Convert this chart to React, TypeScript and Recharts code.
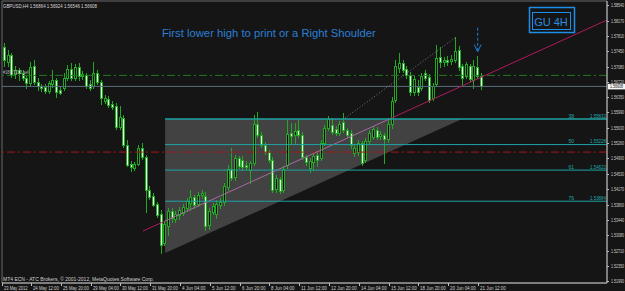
import React from 'react';
import { ComposedChart, Bar, XAxis, YAxis, ReferenceLine, ReferenceArea, Customized } from 'recharts';

// ---- data (GBPUSD H4, 23 May - 21 Jun 2012) ----
const opens = [
  1.5754, 1.5719, 1.5735, 1.5690, 1.5700, 1.5693, 1.5681, 1.5669, 1.5709, 1.5671,
  1.5662, 1.5659, 1.5650, 1.5667, 1.5676, 1.5652, 1.5657, 1.5681, 1.5702, 1.5681,
  1.5707, 1.5686, 1.5688, 1.5667, 1.5662, 1.5693, 1.5671, 1.5626, 1.5631, 1.5619,
  1.5614, 1.5565, 1.5586, 1.5522, 1.5477, 1.5467, 1.5477, 1.5515, 1.5493, 1.5415,
  1.5401, 1.5382, 1.5358, 1.5289, 1.5330, 1.5365, 1.5346, 1.5356, 1.5360, 1.5372,
  1.5384, 1.5398, 1.5382, 1.5403, 1.5401, 1.5332, 1.5363, 1.5358, 1.5379, 1.5387,
  1.5422, 1.5465, 1.5446, 1.5491, 1.5486, 1.5474, 1.5462, 1.5479, 1.5572, 1.5546,
  1.5522, 1.5505, 1.5486, 1.5417, 1.5441, 1.5415, 1.5474, 1.5550, 1.5546, 1.5557,
  1.5546, 1.5493, 1.5467, 1.5481, 1.5498, 1.5491, 1.5527, 1.5562, 1.5569, 1.5560,
  1.5550, 1.5576, 1.5557, 1.5550, 1.5503, 1.5505, 1.5527, 1.5486, 1.5531, 1.5541,
  1.5557, 1.5543, 1.5546, 1.5536, 1.5572, 1.5629, 1.5705, 1.5716, 1.5702, 1.5688,
  1.5648, 1.5659, 1.5657, 1.5693, 1.5683, 1.5633, 1.5667, 1.5731, 1.5719, 1.5724,
  1.5721, 1.5724, 1.5747, 1.5709, 1.5686, 1.5709, 1.5676, 1.5707, 1.56864,
];
const highs = [
  1.5764, 1.5747, 1.5740, 1.5709, 1.5705, 1.5700, 1.5686, 1.5719, 1.5724, 1.5681,
  1.5667, 1.5667, 1.5674, 1.5700, 1.5681, 1.5662, 1.5693, 1.5712, 1.5716, 1.5714,
  1.5716, 1.5697, 1.5693, 1.5676, 1.5719, 1.5700, 1.5676, 1.5640, 1.5638, 1.5626,
  1.5621, 1.5614, 1.5593, 1.5534, 1.5484, 1.5481, 1.5522, 1.5527, 1.5498, 1.5425,
  1.5408, 1.5387, 1.5368, 1.5342, 1.5372, 1.5372, 1.5365, 1.5375, 1.5382, 1.5396,
  1.5415, 1.5403, 1.5410, 1.5415, 1.5410, 1.5372, 1.5384, 1.5391, 1.5396, 1.5432,
  1.5474, 1.5515, 1.5498, 1.5496, 1.5496, 1.5484, 1.5484, 1.5593, 1.5600, 1.5553,
  1.5529, 1.5510, 1.5493, 1.5451, 1.5446, 1.5472, 1.5581, 1.5574, 1.5574, 1.5581,
  1.5553, 1.5498, 1.5491, 1.5503, 1.5505, 1.5534, 1.5569, 1.5591, 1.5586, 1.5567,
  1.5579, 1.5598, 1.5562, 1.5557, 1.5522, 1.5534, 1.5531, 1.5538, 1.5557, 1.5567,
  1.5565, 1.5555, 1.5550, 1.5586, 1.5636, 1.5724, 1.5740, 1.5724, 1.5709, 1.5695,
  1.5686, 1.5676, 1.5693, 1.5700, 1.5690, 1.5669, 1.5759, 1.5754, 1.5731, 1.5733,
  1.5735, 1.5778, 1.5757, 1.5714, 1.5719, 1.5714, 1.5724, 1.5733, 1.56924,
];
const lows = [
  1.5709, 1.5709, 1.5683, 1.5681, 1.5676, 1.5676, 1.5657, 1.5664, 1.5667, 1.5652,
  1.5650, 1.5645, 1.5645, 1.5659, 1.5636, 1.5643, 1.5652, 1.5676, 1.5676, 1.5676,
  1.5676, 1.5678, 1.5657, 1.5652, 1.5657, 1.5667, 1.5619, 1.5621, 1.5612, 1.5607,
  1.5560, 1.5560, 1.5517, 1.5472, 1.5460, 1.5462, 1.5474, 1.5489, 1.5363, 1.5394,
  1.5377, 1.5351, 1.5266, 1.5285, 1.5308, 1.5339, 1.5339, 1.5346, 1.5356, 1.5365,
  1.5368, 1.5372, 1.5377, 1.5396, 1.5320, 1.5323, 1.5358, 1.5349, 1.5372, 1.5379,
  1.5415, 1.5439, 1.5439, 1.5467, 1.5462, 1.5465, 1.5432, 1.5474, 1.5541, 1.5517,
  1.5500, 1.5481, 1.5410, 1.5410, 1.5408, 1.5410, 1.5467, 1.5527, 1.5527, 1.5541,
  1.5489, 1.5474, 1.5458, 1.5462, 1.5472, 1.5486, 1.5522, 1.5557, 1.5548, 1.5546,
  1.5546, 1.5553, 1.5541, 1.5515, 1.5496, 1.5498, 1.5474, 1.5481, 1.5524, 1.5536,
  1.5536, 1.5536, 1.5479, 1.5529, 1.5562, 1.5624, 1.5695, 1.5695, 1.5681, 1.5640,
  1.5640, 1.5640, 1.5652, 1.5676, 1.5624, 1.5629, 1.5662, 1.5707, 1.5709, 1.5712,
  1.5714, 1.5719, 1.5700, 1.5664, 1.5681, 1.5674, 1.5657, 1.5681, 1.56546,
];
const closes = [
  1.5724, 1.5735, 1.5688, 1.5700, 1.5693, 1.5681, 1.5669, 1.5707, 1.5671, 1.5662,
  1.5657, 1.5650, 1.5669, 1.5676, 1.5648, 1.5645, 1.5681, 1.5702, 1.5681, 1.5707,
  1.5686, 1.5690, 1.5662, 1.5657, 1.5693, 1.5671, 1.5633, 1.5633, 1.5617, 1.5612,
  1.5565, 1.5588, 1.5522, 1.5474, 1.5470, 1.5477, 1.5515, 1.5493, 1.5415, 1.5398,
  1.5379, 1.5356, 1.5285, 1.5334, 1.5365, 1.5349, 1.5358, 1.5368, 1.5375, 1.5389,
  1.5398, 1.5379, 1.5403, 1.5408, 1.5330, 1.5365, 1.5377, 1.5382, 1.5387, 1.5425,
  1.5465, 1.5444, 1.5491, 1.5472, 1.5470, 1.5470, 1.5479, 1.5572, 1.5546, 1.5522,
  1.5505, 1.5486, 1.5415, 1.5444, 1.5413, 1.5465, 1.5548, 1.5543, 1.5555, 1.5546,
  1.5493, 1.5481, 1.5484, 1.5496, 1.5486, 1.5527, 1.5562, 1.5584, 1.5553, 1.5550,
  1.5572, 1.5557, 1.5546, 1.5522, 1.5515, 1.5527, 1.5479, 1.5531, 1.5550, 1.5560,
  1.5541, 1.5548, 1.5536, 1.5572, 1.5626, 1.5709, 1.5716, 1.5700, 1.5688, 1.5648,
  1.5678, 1.5648, 1.5686, 1.5681, 1.5629, 1.5662, 1.5728, 1.5719, 1.5724, 1.5719,
  1.5726, 1.5745, 1.5707, 1.5681, 1.5714, 1.5678, 1.5709, 1.5686, 1.56608,
];

const timeTicks = [-0.7, 7, 15, 23, 31, 39, 47, 55, 63, 71, 79, 87, 95, 103, 111, 119, 127];
const timeLabels = [
  '23 May 2012', '24 May 12:00', '25 May 20:00', '29 May 04:00', '30 May 12:00', '31 May 20:00',
  '4 Jun 04:00', '5 Jun 12:00', '6 Jun 20:00', '8 Jun 04:00', '11 Jun 12:00', '12 Jun 20:00',
  '14 Jun 04:00', '15 Jun 12:00', '18 Jun 20:00', '20 Jun 04:00', '21 Jun 12:00',
];
const priceTicks = [
  1.5854, 1.5817, 1.5781, 1.5745, 1.5708, 1.5672, 1.5635, 1.5599, 1.5563, 1.5526,
  1.549, 1.5453, 1.5417, 1.538, 1.5344, 1.5308, 1.5271, 1.5235, 1.5199,
];

const fibStart = 43.0;
const fibLevels = [
  { pct: '38', value: 1.55832 },
  { pct: '50', value: 1.55228 },
  { pct: '61', value: 1.54622 },
  { pct: '76', value: 1.53884 },
];
const orderLevel = 1.5687;
const stopLevel = 1.5505;
const triangle = { x1: 43.0, x2: 122.7, y1: 1.52655, y2: 1.55832 };
const trendPink = [
  { x: 37.07, y: 1.53177 },
  { x: 43.0, y: 1.53415 },
  { x: 103.1, y: 1.55831 },
  { x: 161.6, y: 1.58184 },
];
const trendDotted = [{ x: 91.3, y: 1.5586 }, { x: 120.8, y: 1.5776 }];
const arrowPts = { x: 126.9, left: 126.0, right: 127.8, top: 1.5800, tip: 1.5743, wing: 1.5760 };

const X_MIN = -0.78;
const X_MAX = 161.6;
const Y_MIN = 1.51943;
const Y_MAX = 1.58635;

const FONT = "'Liberation Sans', Arial, sans-serif";
const WICK = '#22a822';

const data = opens.map((o, i) => ({
  i,
  open: o,
  high: highs[i],
  low: lows[i],
  close: closes[i],
  range: [lows[i], highs[i]],
}));
const last = data.length - 1;
const bidPrice = closes[last];

const Candle = (props: any) => {
  const { x, y, width, height, payload } = props;
  if (!payload || height == null) return null;
  const { open, close, high, low } = payload;
  const cx = Math.floor(x + width / 2) + 0.5;
  const k = height / (high - low);
  const yO = y + (high - open) * k;
  const yC = y + (high - close) * k;
  const top = Math.round(Math.min(yO, yC)) + 0.5;
  const bot = Math.round(Math.max(yO, yC)) + 0.5;
  const bull = close >= open;
  return (
    <g>
      <line x1={cx} x2={cx} y1={Math.round(y)} y2={Math.round(y + height) + 1} stroke={WICK} strokeWidth={1} />
      <rect
        x={cx - 1}
        y={top}
        width={2}
        height={Math.max(0, bot - top)}
        fill={bull ? '#050505' : '#e4ffe4'}
        stroke={WICK}
        strokeWidth={1}
      />
    </g>
  );
};

const XTick = (props: any) => {
  const { x, y, index } = props;
  const px = Math.round(x) + 0.5;
  const label = timeLabels[index] || '';
  return (
    <g>
      <line x1={px} x2={px} y1={y} y2={y + 3} stroke="#bdbdbd" />
      <text
        x={px + 1.5}
        y={y + 6.5}
        fontSize={5.2}
        fill="#cfcfcf"
        fontFamily={FONT}
        textLength={label.length * 2.15}
        lengthAdjust="spacingAndGlyphs"
      >
        {label}
      </text>
    </g>
  );
};

const YTick = (props: any) => {
  const { x, y, payload } = props;
  const py = Math.round(y) + 0.5;
  return (
    <g>
      <line x1={x} x2={x + 2} y1={py} y2={py} stroke="#bdbdbd" />
      <text x={x + 4} y={py + 1.7} fontSize={5.2} fill="#cfcfcf" fontFamily={FONT} textLength={13} lengthAdjust="spacingAndGlyphs">
        {Number(payload.value).toFixed(5)}
      </text>
    </g>
  );
};

const fibLabel = (pct: string, value: number) => (p: any) => {
  const vb = p.viewBox || {};
  const xr = (vb.x || 0) + (vb.width || 0) - 1;
  const y = (vb.y || 0) - 1.5;
  return (
    <g fontFamily={FONT} fontSize={5} fill="#20a8a8">
      <text x={xr - 32} y={y} textAnchor="end">{pct}</text>
      <text x={xr} y={y} textAnchor="end" textLength={16} lengthAdjust="spacingAndGlyphs">{value.toFixed(5)}</text>
    </g>
  );
};

const bidLabel = (p: any) => {
  const vb = p.viewBox || {};
  const x = (vb.x || 0) + (vb.width || 0) + 1;
  const y = vb.y || 0;
  return (
    <g>
      <rect x={x} y={y - 2.6} width={30} height={5.6} fill="#f4f4f4" />
      <text x={x + 2} y={y + 2} fontSize={5.2} fill="#111" fontFamily={FONT} textLength={13} lengthAdjust="spacingAndGlyphs">
        {bidPrice.toFixed(5)}
      </text>
    </g>
  );
};

const orderLabel = (p: any) => {
  const vb = p.viewBox || {};
  return (
    <text x={(vb.x || 0) + 1} y={(vb.y || 0) - 1.5} fontSize={5} fill="#b8b8b8" fontFamily={FONT} textLength={26} lengthAdjust="spacingAndGlyphs">
      #18973213 sell
    </text>
  );
};

const TriangleShape = (p: any) => {
  const { x, y, width, height } = p;
  return (
    <polygon
      points={`${x},${y} ${x + width},${y} ${x},${y + height}`}
      fill="#9a9a9a"
      fillOpacity={0.34}
      stroke="none"
    />
  );
};

const Overlay = () => (
  <g fontFamily={FONT}>
    <text x={3} y={7.5} fontSize={5.2} fill="#d8d8d8" textLength={94} lengthAdjust="spacingAndGlyphs">
      {`GBPUSD,H4  ${opens[last].toFixed(5)} ${highs[last].toFixed(5)} ${lows[last].toFixed(5)} ${closes[last].toFixed(5)}`}
    </text>
    <text x={162} y={36.5} fontSize={11.25} fill="#2b7fd6">
      First lower high to print or a Right Shoulder
    </text>
    <rect x={529.5} y={7.5} width={45} height={25} fill="none" stroke="#1e8fe8" strokeWidth={1.5} />
    <rect x={532.5} y={12.5} width={38} height={17} fill="none" stroke="#1e8fe8" strokeWidth={1} />
    <text x={551} y={25.5} textAnchor="middle" fontSize={11} fill="#2a8ce0">GU 4H</text>
    <text x={3} y={281} fontSize={5.3} fill="#d0d0d0" textLength={151} lengthAdjust="spacingAndGlyphs">
      MT4 ECN - ATC Brokers, © 2001-2012, MetaQuotes Software Corp.
    </text>
  </g>
);

export default function App() {
  return (
    <div style={{ position: 'absolute', left: 0, top: 0, width: 625, height: 291, overflow: 'hidden', background: '#151515' }}>
      <ComposedChart width={625} height={291} data={data} margin={{ top: 1, right: 0, bottom: 0, left: 2 }}>
        <XAxis
          dataKey="i"
          type="number"
          domain={[X_MIN, X_MAX]}
          allowDataOverflow
          ticks={timeTicks}
          interval={0}
          tick={<XTick />}
          tickLine={false}
          tickSize={0}
          tickMargin={0}
          axisLine={{ stroke: '#bdbdbd' }}
          height={8}
        />
        <YAxis
          orientation="right"
          type="number"
          domain={[Y_MIN, Y_MAX]}
          allowDataOverflow
          ticks={priceTicks}
          interval={0}
          tick={<YTick />}
          tickLine={false}
          tickSize={0}
          tickMargin={0}
          axisLine={{ stroke: '#bdbdbd' }}
          width={18}
        />
        <ReferenceArea x1={X_MIN} x2={X_MAX} y1={Y_MIN} y2={Y_MAX} fill="none" stroke="#6a6a6a" ifOverflow="visible" />

        <ReferenceLine y={stopLevel} stroke="#b01212" strokeDasharray="8 3 2 3" ifOverflow="visible" />
        <ReferenceLine y={orderLevel} stroke="#1f7a1f" strokeDasharray="8 3 2 3" ifOverflow="visible" label={orderLabel} />
        <ReferenceLine y={bidPrice} stroke="#5a6e7e" ifOverflow="visible" label={bidLabel} />

        <ReferenceLine segment={[trendPink[0], trendPink[1]]} stroke="#b0195e" ifOverflow="visible" />
        <ReferenceLine segment={[trendPink[1], trendPink[2]]} stroke="#a86aa0" ifOverflow="visible" />
        <ReferenceLine segment={[trendPink[2], trendPink[3]]} stroke="#b0195e" ifOverflow="visible" />
        <ReferenceArea x1={triangle.x1} x2={triangle.x2} y1={triangle.y1} y2={triangle.y2} shape={<TriangleShape />} ifOverflow="visible" />
        <ReferenceLine segment={trendDotted} stroke="#7a7a7a" strokeDasharray="1 2" ifOverflow="visible" />

        {fibLevels.map((f) => (
          <ReferenceLine
            key={f.pct}
            segment={[{ x: fibStart, y: f.value }, { x: X_MAX, y: f.value }]}
            stroke="#1fa3a3"
            strokeWidth={f.pct === '38' ? 1.5 : 1}
            ifOverflow="visible"
            label={fibLabel(f.pct, f.value)}
          />
        ))}

        <ReferenceLine segment={[{ x: arrowPts.x, y: arrowPts.top }, { x: arrowPts.x, y: arrowPts.tip }]} stroke="#1e82dc" strokeDasharray="3 2" ifOverflow="visible" />
        <ReferenceLine segment={[{ x: arrowPts.left, y: arrowPts.wing }, { x: arrowPts.x, y: arrowPts.tip }]} stroke="#1e82dc" ifOverflow="visible" />
        <ReferenceLine segment={[{ x: arrowPts.right, y: arrowPts.wing }, { x: arrowPts.x, y: arrowPts.tip }]} stroke="#1e82dc" ifOverflow="visible" />

        <Bar dataKey="range" barSize={3} shape={<Candle />} isAnimationActive={false} />
        <Customized component={<Overlay />} />
      </ComposedChart>
    </div>
  );
}
